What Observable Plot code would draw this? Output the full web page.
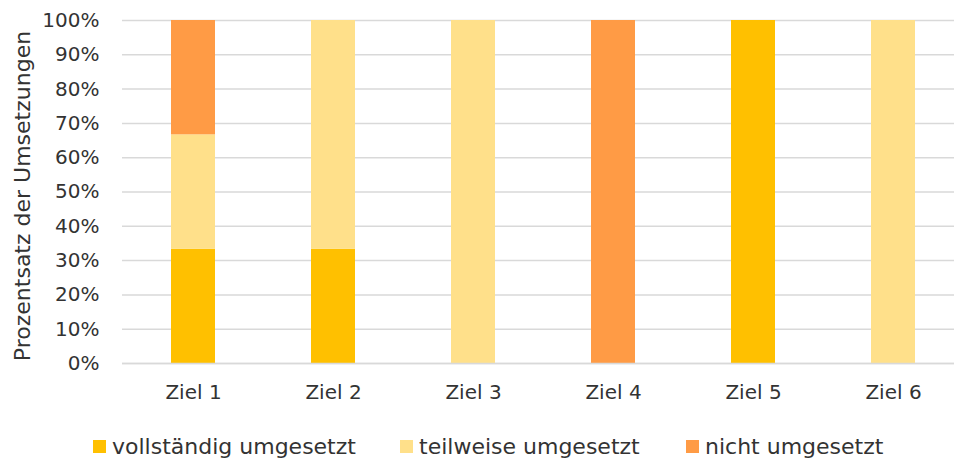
<!DOCTYPE html>
<html>
<head>
<meta charset="utf-8">
<script src="https://cdn.jsdelivr.net/npm/d3@7"></script>
<script src="https://cdn.jsdelivr.net/npm/@observablehq/plot@0.6"></script>
<style>
  html, body { margin: 0; padding: 0; background: #fff; overflow: hidden; }
  body { width: 954px; height: 458px; font-family: "DejaVu Sans", sans-serif; color: #333; }
  #legend { height: 40px; font-size: 22px; position: relative; }
  .item { position: absolute; display: flex; align-items: center; top: 8px; height: 40px; }
  .sw { width: 13px; height: 13px; margin-right: 6px; }
</style>
</head>
<body>
<div id="chart"></div>
<div id="legend"></div>
<script>
const categories = ["Ziel 1", "Ziel 2", "Ziel 3", "Ziel 4", "Ziel 5", "Ziel 6"];
const seriesNames = ["vollständig umgesetzt", "teilweise umgesetzt", "nicht umgesetzt"];
const seriesColors = ["#FFC000", "#FFE08A", "#FF9B45"];
const vollstaendig = [1/3, 1/3, 0, 0, 1, 0];
const teilweise    = [1/3, 2/3, 1, 0, 0, 1];
const nicht        = [1/3, 0,   0, 1, 0, 0];
const yTicks = [0, 0.1, 0.2, 0.3, 0.4, 0.5, 0.6, 0.7, 0.8, 0.9, 1];

const seriesValues = [vollstaendig, teilweise, nicht];
const data = [];
seriesNames.forEach((s, si) => {
  categories.forEach((c, ci) => data.push({ziel: c, serie: s, wert: seriesValues[si][ci]}));
});

const W = 954, H = 418;
const chart = Plot.plot({
  width: W,
  height: H,
  marginLeft: 122,
  marginRight: 0,
  marginTop: 20,
  marginBottom: 55,
  style: { fontFamily: "'DejaVu Sans', sans-serif", fontSize: "20px", color: "#333", background: "#fff", overflow: "hidden" },
  x: { domain: categories, range: [121.4, 964.8], paddingInner: 0.687, paddingOuter: 0.3435, align: 0.5, label: null },
  y: { domain: [0, 1], label: null },
  color: { domain: seriesNames, range: seriesColors },
  marks: [
    Plot.gridY(yTicks, { stroke: "#d9d9d9", strokeOpacity: 1, strokeWidth: 1.5 }),
    Plot.barY(data, Plot.stackY({ x: "ziel", y: "wert", fill: "serie", order: null })),
    Plot.ruleY([0], { stroke: "#d9d9d9", strokeWidth: 1.5 }),
    Plot.axisY({ ticks: yTicks, tickSize: 0, tickPadding: 23, tickFormat: d3.format(".0%"), fontSize: 20, label: null }),
    Plot.axisX({ tickSize: 0, tickPadding: 21, fontSize: 20, label: null }),
    Plot.text(["Prozentsatz der Umsetzungen"], { frameAnchor: "left", textAnchor: "middle", rotate: -90, dx: -100, dy: 4, fontSize: 22, fill: "#333" })
  ]
});
document.getElementById("chart").appendChild(chart);

const legend = document.getElementById("legend");
const lefts = [93, 400, 686];
seriesNames.forEach((s, i) => {
  const it = document.createElement("div");
  it.className = "item";
  it.style.left = lefts[i] + "px";
  const sw = document.createElement("span");
  sw.className = "sw";
  sw.style.background = seriesColors[i];
  const tx = document.createElement("span");
  tx.textContent = s;
  it.appendChild(sw); it.appendChild(tx);
  legend.appendChild(it);
});
</script>
</body>
</html>
